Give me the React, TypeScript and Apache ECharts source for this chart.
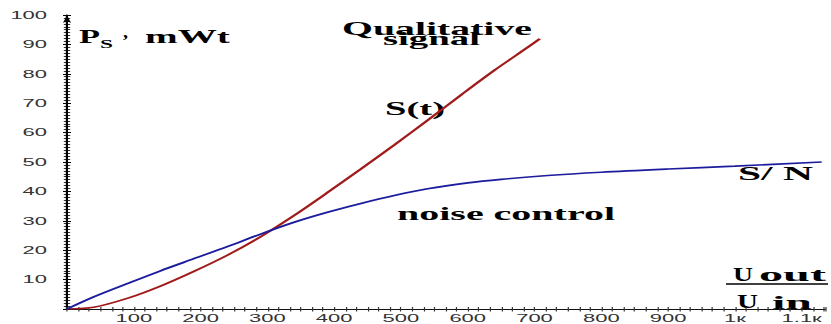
import React, { useEffect, useRef } from "react";
import * as echarts from "echarts";

// ---- data ----
const signalX = [0, 40, 90, 140, 190, 240, 290, 340, 390, 440, 490, 540, 590, 640, 690, 708];
const signalY = [0, 0.6, 3.6, 7.8, 12.8, 18.3, 24.6, 31.8, 39.6, 47.6, 55.8, 64.2, 72.8, 81.2, 89.0, 91.9];

const noiseX = [0, 40, 90, 140, 190, 240, 290, 340, 390, 440, 490, 540, 600, 650, 720, 800, 900, 1000, 1130];
const noiseY = [0, 4.1, 8.6, 13.0, 17.1, 21.2, 25.5, 29.5, 32.9, 35.9, 38.6, 40.9, 42.9, 44.1, 45.4, 46.5, 47.6, 48.6, 50.0];

const xTickLabels = ["100", "200", "300", "400", "500", "600", "700", "800", "900", "1к", "1.1к"];
const yTickLabels = ["10", "20", "30", "40", "50", "60", "70", "80", "90", "100"];

const X_MAX = 1135;
const Y_MAX = 100;

// ---- layout (the reference is horizontally stretched ~2x) ----
const W = 416;
const H = 324;
const S = 831 / W;

type Note = { text: string; left: number; base: number; width: number; size: number };
const notes: Note[] = [
  { text: "Qualitative", left: 342, base: 35, width: 190, size: 18 },
  { text: "signal", left: 383, base: 45, width: 97, size: 18 },
  { text: "S(t)", left: 385, base: 115, width: 60, size: 18 },
  { text: "noise control", left: 397, base: 220, width: 218, size: 18 },
  { text: "S/ N", left: 738, base: 180, width: 75, size: 18 },
  { text: "P", left: 79, base: 43, width: 21, size: 18 },
  { text: "S", left: 100, base: 48, width: 13, size: 12 },
  { text: ",", left: 123, base: 38, width: 5, size: 16 },
  { text: "mWt", left: 145, base: 43, width: 85, size: 18 },
  { text: "U", left: 733, base: 281, width: 20, size: 18 },
  { text: "out", left: 759, base: 281, width: 67, size: 18 },
  { text: "U", left: 737, base: 308, width: 21, size: 18 },
  { text: "in", left: 772, base: 309, width: 40, size: 18 },
];

const SERIF = '"Liberation Serif", "Times New Roman", serif';

function measure(text: string, size: number): number {
  const c = document.createElement("canvas").getContext("2d");
  if (!c) return text.length * size * 0.5;
  c.font = `bold ${size}px ${SERIF}`;
  return c.measureText(text).width;
}

export default function App() {
  const ref = useRef<HTMLDivElement>(null);

  useEffect(() => {
    if (!ref.current) return;
    const chart = echarts.init(ref.current, null, { renderer: "svg", width: W, height: H });

    const tickFont = { fontFamily: '"Liberation Sans", Arial, sans-serif', fontSize: 11, color: "#333" };

    const graphics: any[] = notes.map((n) => ({
      type: "text",
      x: n.left / S,
      y: n.base - 0.34 * n.size,
      scaleX: n.width / (measure(n.text, n.size) * S),
      scaleY: 1,
      silent: true,
      style: {
        text: n.text,
        fontFamily: SERIF,
        fontSize: n.size,
        fontWeight: "bold",
        fill: "#000",
        textAlign: "left",
        textVerticalAlign: "middle",
      },
    }));
    graphics.push({
      type: "line",
      silent: true,
      shape: { x1: 726 / S, y1: 284, x2: 828 / S, y2: 284 },
      style: { stroke: "#000", lineWidth: 1.4 },
    });

    const xBase = {
      type: "value" as const,
      min: 0,
      max: X_MAX,
      interval: 100,
      position: "bottom" as const,
      splitLine: { show: false },
    };
    const yBase = {
      type: "value" as const,
      min: 0,
      max: Y_MAX,
      interval: 10,
      position: "left" as const,
      splitLine: { show: false },
    };

    chart.setOption({
      animation: false,
      backgroundColor: "#fff",
      grid: { left: 67 / S, right: W - 830 / S, top: 15, bottom: 14, containLabel: false },
      xAxis: [
        {
          ...xBase,
          axisLine: { show: true, lineStyle: { color: "#111", width: 1 } },
          axisTick: { show: true, length: 2.5, lineStyle: { color: "#333", width: 0.6 } },
          minorTick: { show: true, splitNumber: 6, length: 2.5, lineStyle: { color: "#333", width: 0.6 } },
          axisLabel: {
            ...tickFont,
            margin: 4,
            formatter: (v: number) => (v > 0 && v % 100 === 0 ? xTickLabels[v / 100 - 1] ?? "" : ""),
          },
        },
        {
          ...xBase,
          axisLine: { show: false },
          axisTick: { show: true, inside: true, length: 2, lineStyle: { color: "#333", width: 0.6 } },
          minorTick: { show: true, splitNumber: 6, length: 2, lineStyle: { color: "#333", width: 0.6 } },
          axisLabel: { show: false },
        },
      ],
      yAxis: [
        {
          ...yBase,
          axisLine: {
            show: true,
            lineStyle: { color: "#000", width: 1.1 },
            symbol: ["none", "arrow"],
            symbolSize: [3, 8],
          },
          axisTick: { show: true, length: 2, lineStyle: { color: "#000", width: 1 } },
          minorTick: { show: true, splitNumber: 10, length: 1.6, lineStyle: { color: "#000", width: 0.8 } },
          axisLabel: {
            ...tickFont,
            margin: 10,
            formatter: (v: number) => (v > 0 ? yTickLabels[v / 10 - 1] ?? "" : ""),
          },
        },
        {
          ...yBase,
          axisLine: { show: false },
          axisTick: { show: true, inside: true, length: 2, lineStyle: { color: "#000", width: 1 } },
          minorTick: { show: true, splitNumber: 10, length: 1.6, lineStyle: { color: "#000", width: 0.8 } },
          axisLabel: { show: false },
        },
      ],
      series: [
        {
          name: "S(t)",
          type: "line",
          smooth: 0.3,
          showSymbol: false,
          symbol: "none",
          data: signalX.map((x, i) => [x, signalY[i]]),
          lineStyle: { color: "#a01c1c", width: 1.6 },
        },
        {
          name: "S/N",
          type: "line",
          smooth: 0.3,
          showSymbol: false,
          symbol: "none",
          data: noiseX.map((x, i) => [x, noiseY[i]]),
          lineStyle: { color: "#1c1c9e", width: 1.6 },
        },
      ],
      graphic: graphics,
    });

    return () => chart.dispose();
  }, []);

  return (
    <div
      ref={ref}
      style={{
        position: "absolute",
        left: 0,
        top: 0,
        width: W,
        height: H,
        transform: `scaleX(${S})`,
        transformOrigin: "0 0",
        background: "#fff",
      }}
    />
  );
}
